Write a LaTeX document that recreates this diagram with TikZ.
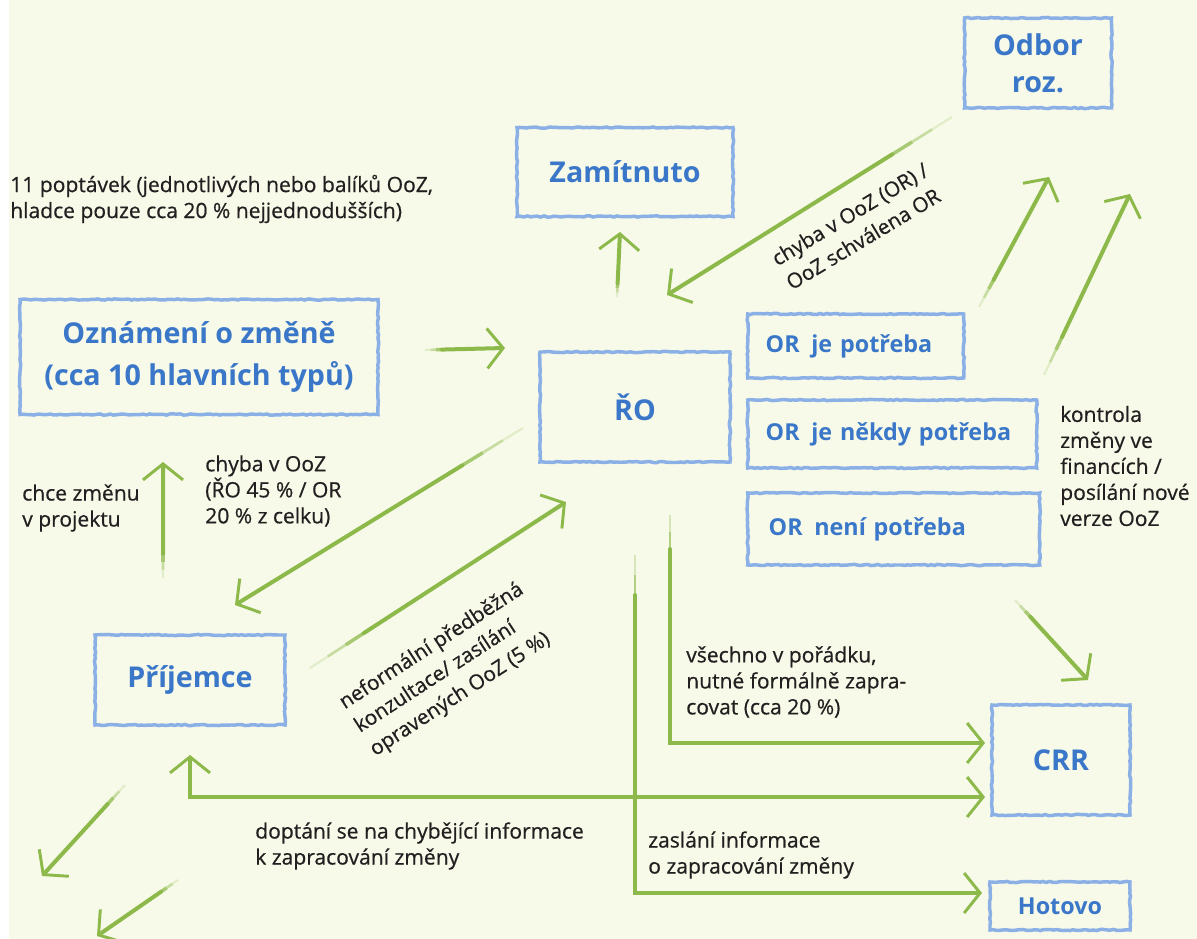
\documentclass[tikz,border=0pt]{standalone}
\usepackage{fontspec}
\setmainfont{Open Sans}
\newfontfamily\lblfont{Open Sans}[FakeBold=0.6]
\usetikzlibrary{arrows.meta,decorations.pathmorphing,calc}
\definecolor{bg}{HTML}{F7FAE8}
\definecolor{boxblue}{HTML}{8AB0E6}
\definecolor{txtblue}{HTML}{3A77C9}
\definecolor{grn}{HTML}{8DB94B}
\definecolor{ink}{HTML}{231F20}
\pgfmathsetseed{7}
\newcommand{\garrow}[2]{%
  \draw[tailsty,opacity=0.2,line width=1.6pt] (#1) -- ($(#1)!0.07!(#2)$);
  \draw[tailsty,opacity=0.45,line width=2pt] ($(#1)!0.07!(#2)$) -- ($(#1)!0.14!(#2)$);
  \draw[tailsty,opacity=0.75,line width=2.6pt] ($(#1)!0.14!(#2)$) -- ($(#1)!0.21!(#2)$);
  \draw[arr] ($(#1)!0.21!(#2)$) -- (#2);}
\begin{document}
\begin{tikzpicture}[x=0.75pt,y=-0.75pt,
  box/.style={draw=boxblue,line width=2.6pt,decorate,
    decoration={random steps,segment length=2.5pt,amplitude=0.45pt},
    text=txtblue,font=\fontsize{21.5}{28}\selectfont\bfseries,align=center,inner sep=0pt},
  bsize/.style 2 args={minimum width=#1*0.75pt,minimum height=#2*0.75pt},
  orbox/.style={box,font=\fontsize{17.5}{22}\selectfont\bfseries,align=left,inner xsep=18*0.75pt},
  lbl/.style={text=ink,font=\lblfont\fontsize{15.8}{19.5}\selectfont,align=left,inner sep=0pt},
  rlbl/.style={lbl,font=\lblfont\fontsize{15.5}{21}\selectfont},
  bar/.tip={Straight Barb[length=12pt,width=30pt,line width=2.2pt]},
  arr/.style={draw=grn,line width=3pt,line cap=round,-bar},
  tailsty/.style={draw=grn,line width=2.2pt,line cap=butt}]
\path[use as bounding box] (0,0) rectangle (1197,939);
\fill[bg] (0,0) rectangle (1197,939);
\fill[white] (0,0) rectangle (9,939);

% boxes
\node[box,bsize={147}{90}] (odbor) at (1038,63) {Odbor\\roz.};
\node[box,bsize={216}{89}] (zam) at (625,172) {Zam\'{\i}tnuto};
\node[box,bsize={358}{115},font=\fontsize{21.5}{32}\selectfont\bfseries] (ozn) at (199,357) {Oznámení o změně\\(cca 10 hlavních typů)};
\node[box,bsize={190}{110}] (ro) at (635,407) {ŘO};
\node[orbox,text width=180*0.75pt,minimum height=64*0.75pt,anchor=west] (or1) at (746,346) {OR\hspace{0.5em}je potřeba};
\node[orbox,text width=253*0.75pt,minimum height=68*0.75pt,anchor=west] (or2) at (746,434) {OR\hspace{0.5em}je někdy potřeba};
\node[orbox,text width=250*0.75pt,minimum height=72*0.75pt,anchor=west,inner xsep=21*0.75pt] (or3) at (746,529) {OR\hspace{0.5em}není potřeba};
\node[box,bsize={138}{110}] (crr) at (1061,760) {CRR};
\node[box,bsize={140}{48},font=\fontsize{17.5}{20}\selectfont\bfseries] (hot) at (1060,906) {Hotovo};
\node[box,bsize={190}{90}] (pri) at (190,680) {Příjemce};

% labels
\node[lbl,anchor=west] (t11) at (10,199) {11 poptávek (jednotlivých nebo balíků OoZ,\\hladce pouze cca 20 \% nejjednodušších)};
\node[lbl,anchor=west] (tchyba) at (205,491) {chyba v OoZ\\(ŘO 45 \% / OR\\20 \% z celku)};
\node[lbl,anchor=west] (tchce) at (22,508) {chce změnu\\v projektu};
\node[lbl,anchor=west] (tvse) at (686,682) {všechno v pořádku,\\nutné formálně zapra-\\covat (cca 20 \%)};
\node[lbl,anchor=west] (tdopt) at (255,846) {doptání se na chybějící informace\\k zapracování změny};
\node[lbl,anchor=west] (tzasl) at (648,855) {zaslání informace\\o zapracování změny};
\node[lbl,anchor=west] (tkon) at (1060,466) {kontrola\\změny ve\\financích /\\posílání nové\\verze OoZ};
\node[rlbl,rotate=31] (tchOR) at (857,226) {chyba v OoZ (OR) /\\OoZ schválena OR};
\node[rlbl,rotate=33] (tnef) at (447,670) {neformální předběžná\\konzultace/ zasílání\\opravených OoZ (5 \%)};

% arrow end points
\coordinate (a1s) at (425,350);  \coordinate (a1e) at (505,348);
\coordinate (a2s) at (617,297);  \coordinate (a2e) at (620,232);
\coordinate (a3s) at (952,117);  \coordinate (a3e) at (667,295);
\coordinate (a4s) at (979,307);  \coordinate (a4e) at (1049,177);
\coordinate (a5s) at (1044,375); \coordinate (a5e) at (1130,194);
\coordinate (a6s) at (1015,600); \coordinate (a6e) at (1088,680);
\coordinate (a7s) at (523,428);  \coordinate (a7e) at (235,605);
\coordinate (a8s) at (310,668);  \coordinate (a8e) at (566,502);
\coordinate (a9s) at (163,578);  \coordinate (a9e) at (163,462);
\coordinate (a13s) at (125,785); \coordinate (a13e) at (42,876);
\coordinate (a14s) at (178,880); \coordinate (a14e) at (97,936);

\garrow{a1s}{a1e}
\garrow{a2s}{a2e}
\garrow{a3s}{a3e}
\garrow{a4s}{a4e}
\garrow{a5s}{a5e}
\garrow{a6s}{a6e}
\garrow{a7s}{a7e}
\garrow{a8s}{a8e}
\garrow{a9s}{a9e}
\garrow{a13s}{a13e}
\garrow{a14s}{a14e}

% L-shaped connectors
\coordinate (b1s) at (670,515); \coordinate (b1e) at (985,743);
\draw[tailsty,opacity=0.3] (b1s) -- (670,532);
\draw[tailsty,opacity=0.65] (670,532) -- (670,549);
\draw[arr] (670,549) |- (b1e);
\coordinate (b2s) at (635,555); \coordinate (b2e) at (982,893);
\draw[tailsty,opacity=0.3] (b2s) -- (635,575);
\draw[tailsty,opacity=0.65] (635,575) -- (635,595);
\draw[arr] (635,595) |- (b2e);
\coordinate (b3s) at (190,755); \coordinate (b3e) at (985,797);
\draw[arr,bar-bar] (b3s) |- (b3e);
\end{tikzpicture}
\end{document}
